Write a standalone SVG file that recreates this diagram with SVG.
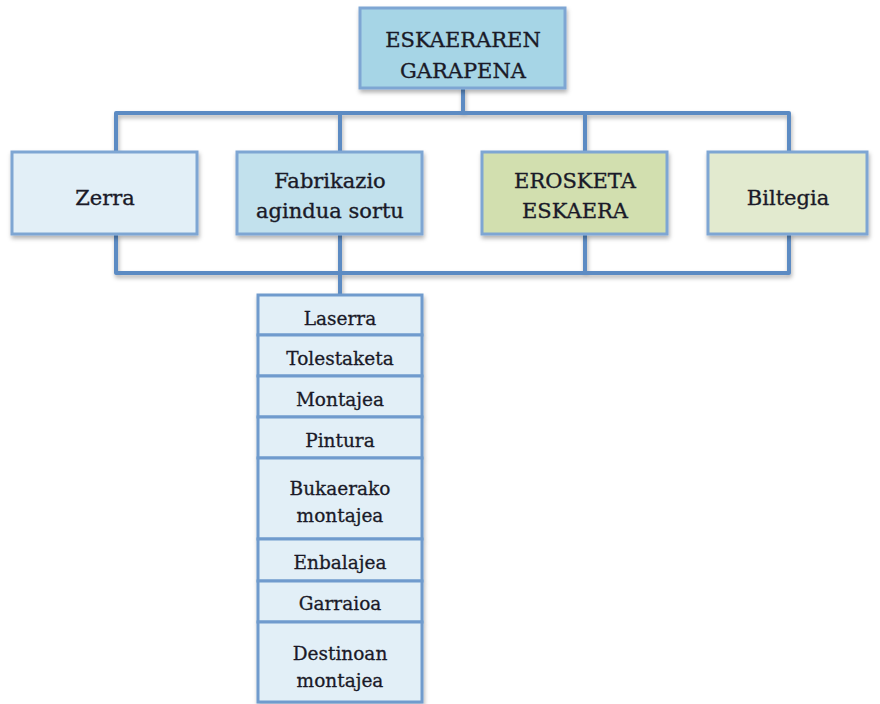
<svg xmlns="http://www.w3.org/2000/svg" width="880" height="704" viewBox="0 0 880 704">
<defs>
<filter id="sh" x="-10%" y="-10%" width="125%" height="130%">
<feDropShadow dx="1" dy="3" stdDeviation="2" flood-color="#000" flood-opacity="0.3"/>
</filter>
<style>
.box{stroke:#7ea6d3;stroke-width:3;filter:url(#sh)}
.row{stroke:#6f9bcd;stroke-width:3;fill:#e2eff7}
.t{font-family:"DejaVu Serif","Liberation Serif",serif;font-size:21px;fill:#1a1a28;stroke:#1a1a28;stroke-width:0.35;text-anchor:middle}
.s{font-family:"DejaVu Serif","Liberation Serif",serif;font-size:18.5px;fill:#1a1a28;stroke:#1a1a28;stroke-width:0.3;text-anchor:middle}
.c{stroke:#5b8bc3;stroke-width:4;fill:none;stroke-linejoin:round;filter:url(#sh)}
</style>
</defs>
<rect width="880" height="704" fill="#fff"/>
<g id="connectors">
<path class="c" d="M463 88V113M116 152V113H789V152M340 113V152M585 113V152"/>
<path class="c" d="M116 234V273H789V234M340 234V295M585 234V273"/>
</g>
<g id="root">
<rect class="box" x="360" y="8" width="205" height="80" fill="#a6d5e6"/>
<text class="t" x="463" y="47">ESKAERAREN</text>
<text class="t" x="463" y="78">GARAPENA</text>
</g>
<g id="zerra">
<rect class="box" x="12" y="152" width="185" height="82" fill="#e2eff7"/>
<text class="t" x="105" y="205">Zerra</text>
</g>
<g id="fabrikazio">
<rect class="box" x="237" y="152" width="185" height="82" fill="#c2e1ed"/>
<text class="t" x="330" y="188">Fabrikazio</text>
<text class="t" x="330" y="218">agindua sortu</text>
</g>
<g id="erosketa">
<rect class="box" x="482" y="152" width="185" height="82" fill="#d2dfaf"/>
<text class="t" x="575" y="188">EROSKETA</text>
<text class="t" x="575" y="218">ESKAERA</text>
</g>
<g id="biltegia">
<rect class="box" x="708" y="152" width="159" height="82" fill="#e2eacf"/>
<text class="t" x="788" y="205">Biltegia</text>
</g>
<g id="list" filter="url(#sh)">
<rect class="row" x="258" y="295" width="164" height="40"/>
<rect class="row" x="258" y="335" width="164" height="41"/>
<rect class="row" x="258" y="376" width="164" height="41"/>
<rect class="row" x="258" y="417" width="164" height="41"/>
<rect class="row" x="258" y="458" width="164" height="81"/>
<rect class="row" x="258" y="539" width="164" height="42"/>
<rect class="row" x="258" y="581" width="164" height="41"/>
<rect class="row" x="258" y="622" width="164" height="80"/>
</g>
<g id="list-text">
<text class="s" x="340" y="325">Laserra</text>
<text class="s" x="340" y="365">Tolestaketa</text>
<text class="s" x="340" y="406">Montajea</text>
<text class="s" x="340" y="447">Pintura</text>
<text class="s" x="340" y="495">Bukaerako</text>
<text class="s" x="340" y="522">montajea</text>
<text class="s" x="340" y="569">Enbalajea</text>
<text class="s" x="340" y="610">Garraioa</text>
<text class="s" x="340" y="660">Destinoan</text>
<text class="s" x="340" y="687">montajea</text>
</g>
</svg>
